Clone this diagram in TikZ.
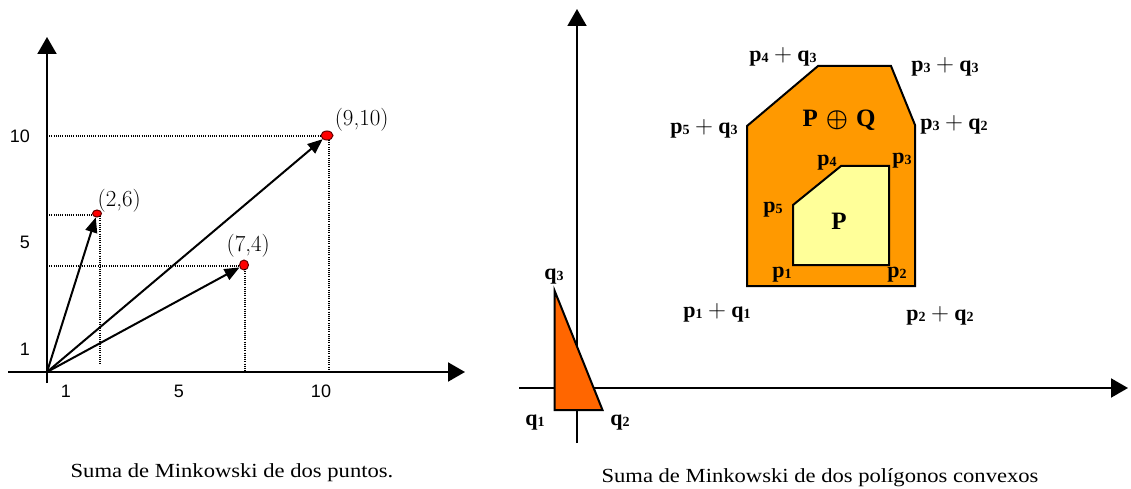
\documentclass[tikz,border=0pt]{standalone}
\usepackage{fontspec}
\setmainfont{Liberation Serif}
\newfontfamily\arialf{Liberation Sans}
\newfontfamily\lmr{Latin Modern Roman}
\usetikzlibrary{arrows.meta,shapes.geometric}
\newcommand\subd[1]{\raisebox{-1pt}{\fontsize{14}{14}\selectfont #1}}
\newcommand\plusop{\ {\fontsize{24}{24}\selectfont$+$}\ }
\begin{document}
\begin{tikzpicture}[x=1pt,y=-1pt,
  axisarrow/.style={line width=2pt,-{Triangle[length=17pt,width=19pt]}},
  vecarrow/.style={line width=2pt,-{Triangle[length=15pt,width=12pt]}},
  guideline/.style={line width=1.2pt,dash pattern=on 1pt off 1.2pt},
  ticklab/.style={font=\arialf\fontsize{18}{18}\selectfont,inner sep=0pt},
  ptlab/.style={font=\lmr\fontsize{23}{23}\selectfont,inner sep=0pt},
  reddot/.style={ellipse,draw=black!60!red,fill=red,line width=1pt,inner sep=0pt},
  captext/.style={font=\fontsize{20}{20}\selectfont,inner sep=0pt},
  boldlab/.style={font=\bfseries\fontsize{22}{22}\selectfont,inner sep=0pt},
  biglab/.style={font=\bfseries\fontsize{25}{25}\selectfont,inner sep=0pt},
  outerpoly/.style={fill={rgb,255:red,255;green,153;blue,0},draw=black,line width=2pt,line join=miter},
  innerpoly/.style={fill={rgb,255:red,255;green,255;blue,153},draw=black,line width=2pt},
  tripoly/.style={fill={rgb,255:red,255;green,102;blue,0},draw=black,line width=2pt}]
\useasboundingbox (0,0) rectangle (1131,489);

% ---------- left chart ----------
\coordinate (O) at (47,372);
\coordinate (LyB) at (47,383);
\coordinate (LyT) at (47,37);
\coordinate (LxL) at (8,372);
\coordinate (LxR) at (465,372);
\draw[axisarrow] (LyB) -- (LyT);
\draw[axisarrow] (LxL) -- (LxR);

\node[reddot,minimum width=12pt,minimum height=9pt] (d910) at (327,135.5) {};
\node[reddot,minimum width=9pt,minimum height=7pt] (d26) at (97,213.5) {};
\node[reddot,minimum width=9pt,minimum height=10pt] (d74) at (244,265) {};

% guides
\coordinate (g1a) at (47,136);  \coordinate (g1b) at (321,136);
\coordinate (g2a) at (47,215);  \coordinate (g2b) at (93,215);
\coordinate (g3a) at (47,266);  \coordinate (g3b) at (239,266);
\coordinate (v1a) at (100,216); \coordinate (v1b) at (100,364);
\coordinate (v2a) at (245,269); \coordinate (v2b) at (245,372);
\coordinate (v3a) at (329,140); \coordinate (v3b) at (329,372);
\draw[guideline] (g1a) -- (g1b);
\draw[guideline] (g2a) -- (g2b);
\draw[guideline] (g3a) -- (g3b);
\draw[guideline] (v1a) -- (v1b);
\draw[guideline] (v2a) -- (v2b);
\draw[guideline] (v3a) -- (v3b);

\draw[vecarrow] (O) -- (d910);
\draw[vecarrow] (O) -- (d26);
\draw[vecarrow] (O) -- (d74);

\node[ptlab] (l910) at (361.7,120) {(9,10)};
\node[ptlab] (l26) at (119.3,200.7) {(2,6)};
\node[ptlab] (l74) at (248.3,246) {(7,4)};

\node[ticklab] (ty10) at (20,136) {10};
\node[ticklab] (ty5) at (25,242) {5};
\node[ticklab] (ty1) at (25,349) {1};
\node[ticklab] (tx1) at (66,391) {1};
\node[ticklab] (tx5) at (179,391) {5};
\node[ticklab] (tx10) at (321,391) {10};

\node[captext] (capL) at (232,473) {\scalebox{1.13}[1]{Suma de Minkowski de dos puntos.}};

% ---------- right diagram ----------
\coordinate (RyB) at (577,443);
\coordinate (RyT) at (577,9);
\coordinate (RxL) at (519,388);
\coordinate (RxR) at (1128,388);
\draw[axisarrow] (RyB) -- (RyT);
\draw[axisarrow] (RxL) -- (RxR);

\filldraw[tripoly] (554.5,290.5) -- (554.5,410) -- (602.5,410) -- cycle;

\filldraw[outerpoly] (747,286) -- (915,286) -- (915,125) -- (891,66) -- (818,66) -- (747,126) -- cycle;
\filldraw[innerpoly] (793,265) -- (889,265) -- (889,166) -- (841,166) -- (793,205) -- cycle;

\node[biglab] (PQ) at (839,120) {P\hspace{8pt}{\boldmath$\oplus$}\hspace{8pt}Q};
\node[biglab] (Pin) at (839,221) {P};

\node[boldlab] (p4) at (827,163) {p\subd{4}};
\node[boldlab] (p3) at (902,161) {p\subd{3}};
\node[boldlab] (p5) at (773,210) {p\subd{5}};
\node[boldlab] (p1) at (782,275) {p\subd{1}};
\node[boldlab] (p2) at (897,275) {p\subd{2}};

\node[boldlab] (p4q3) at (783,57) {p\subd{4}\plusop q\subd{3}};
\node[boldlab] (p3q3) at (945,67) {p\subd{3}\plusop q\subd{3}};
\node[boldlab] (p5q3) at (704,129) {p\subd{5}\plusop q\subd{3}};
\node[boldlab] (p3q2) at (954,125) {p\subd{3}\plusop q\subd{2}};
\node[boldlab] (p1q1) at (717,313) {p\subd{1}\plusop q\subd{1}};
\node[boldlab] (p2q2) at (940,316) {p\subd{2}\plusop q\subd{2}};

\node[boldlab] (q3) at (554,277) {q\subd{3}};
\node[boldlab] (q1) at (535,423) {q\subd{1}};
\node[boldlab] (q2) at (620,423) {q\subd{2}};

\node[captext] (capR) at (820,478) {\scalebox{1.13}[1]{Suma de Minkowski de dos polígonos convexos}};
\end{tikzpicture}
\end{document}
